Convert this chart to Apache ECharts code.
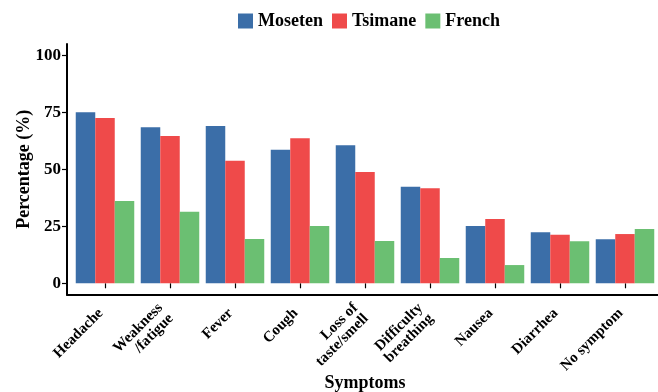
<!DOCTYPE html>
<html>
<head>
<meta charset="utf-8">
<script src="https://cdn.jsdelivr.net/npm/echarts@6/dist/echarts.min.js"></script>
<style>
  html, body { margin: 0; padding: 0; background: #fff; }
  #chart { width: 658px; height: 392px; }
</style>
</head>
<body>
<div id="chart"></div>
<script>
// Symptom categories (x axis)
const symptoms = ['Headache', 'Weakness\n/fatigue', 'Fever', 'Cough', 'Loss of\ntaste/smell',
                  'Difficulty\nbreathing', 'Nausea', 'Diarrhea', 'No symptom'];

// Percentage of respondents reporting each symptom
const moseten = [75.0, 68.4, 69.0, 58.6, 60.5, 42.4, 25.1, 22.4, 19.3];
const tsimane = [72.5, 64.6, 53.8, 63.6, 48.8, 41.7, 28.2, 21.3, 21.6];
const french  = [36.1, 31.4, 19.4, 25.1, 18.6, 11.1,  8.0, 18.4, 23.8];

// Y axis tick values
const yTicks = [0, 25, 50, 75, 100];

const seriesNames = ['Moseten', 'Tsimane', 'French'];
const seriesColors = ['#3B6EA8', '#EF4A4A', '#6BBF72'];

const FONT = '"Liberation Serif", "DejaVu Serif", serif';

const chart = echarts.init(document.getElementById('chart'), null, { renderer: 'canvas' });

function barSeries(name, data, color) {
  return {
    name: name,
    type: 'bar',
    xAxisIndex: 0,
    yAxisIndex: 0,
    data: data,
    barGap: '0%',
    barCategoryGap: '10%',
    itemStyle: { color: color },
    emphasis: { disabled: true }
  };
}

chart.setOption({
  animation: false,
  backgroundColor: '#ffffff',
  textStyle: { fontFamily: FONT },
  legend: {
    top: 7,
    left: 233,
    itemWidth: 15,
    itemHeight: 15,
    itemGap: 9,
    icon: 'rect',
    textStyle: { fontFamily: FONT, fontWeight: 'bold', fontSize: 18, color: '#000' },
    data: seriesNames
  },
  grid: [
    { left: 72.5, width: 585, top: 43.9, bottom: 97.3, outerBoundsMode: 'none', containLabel: false },
    { left: 67, right: -6, top: 43.9, bottom: 97.3, outerBoundsMode: 'none', containLabel: false }
  ],
  xAxis: [
    {
      type: 'category',
      gridIndex: 0,
      data: symptoms,
      name: 'Symptoms',
      nameLocation: 'middle',
      nameGap: 80,
      nameMoveOverlap: false,
      nameTextStyle: { fontFamily: FONT, fontWeight: 'bold', fontSize: 18, color: '#000' },
      axisLine: { show: false },
      axisTick: { show: true, alignWithLabel: true, length: 5, lineStyle: { color: '#000', width: 1.2 } },
      axisLabel: {
        rotate: 45,
        interval: 0,
        margin: 12,
        padding: [0, 6, 0, 0],
        fontFamily: FONT,
        fontWeight: 'bold',
        fontSize: 15,
        lineHeight: 15,
        color: '#000',
        align: 'right'
      },
      splitLine: { show: false }
    },
    {
      type: 'value',
      gridIndex: 1,
      min: 0,
      max: 1,
      axisLine: { show: true, lineStyle: { color: '#000', width: 2 } },
      axisTick: { show: false },
      axisLabel: { show: false },
      splitLine: { show: false }
    }
  ],
  yAxis: [
    {
      type: 'value',
      gridIndex: 0,
      min: -5,
      max: 105,
      offset: 5.5,
      name: 'Percentage (%)',
      nameLocation: 'middle',
      nameGap: 34,
      nameMoveOverlap: false,
      nameRotate: 90,
      nameTextStyle: { fontFamily: FONT, fontWeight: 'bold', fontSize: 18, color: '#000' },
      axisLine: { show: true, lineStyle: { color: '#000', width: 2 } },
      axisTick: { show: true, length: 5, customValues: yTicks, lineStyle: { color: '#000', width: 1.2 } },
      axisLabel: {
        customValues: yTicks,
        margin: 6,
        fontFamily: FONT,
        fontWeight: 'bold',
        fontSize: 17,
        color: '#000'
      },
      splitLine: { show: false }
    },
    {
      type: 'value',
      gridIndex: 1,
      show: false
    }
  ],
  series: [
    barSeries(seriesNames[0], moseten, seriesColors[0]),
    barSeries(seriesNames[1], tsimane, seriesColors[1]),
    barSeries(seriesNames[2], french, seriesColors[2])
  ]
});
</script>
</body>
</html>
